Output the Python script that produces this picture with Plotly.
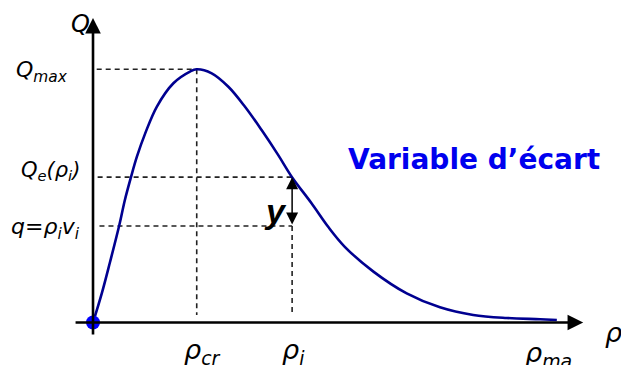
import plotly.graph_objects as go

# density / flow curve (rho in %, Q in % of Qmax)
rho = [0, 1.9, 3.7, 5.7, 6.9, 8.2, 9.5, 11.3, 13.8, 17.4, 21.0, 22.45, 25.7, 29.3,
       32.9, 36.5, 40.1, 43.0, 47.3, 50.9, 54.5, 60.7, 67.9, 75.1, 82.3, 89.5, 96.8, 100.4]
Q = [0, 11.5, 24.0, 38.5, 48.4, 57.3, 65.5, 74.7, 85.2, 94.5, 99.1, 100, 98.4, 93.1,
     85.2, 76.0, 66.1, 57.6, 47.1, 37.8, 29.9, 20.1, 11.5, 6.0, 3.0, 1.8, 1.3, 1.0]

rho_cr = 22.45
rho_i = 43.1
Q_max = 100
Q_e = 57.4
q_i = 38.1

x_axis = [-4.1, 106.1]
y_axis = [-5.3, 120.3]

font_it = "DejaVu Sans"

fig = go.Figure()

# guide lines
guides = [
    ([0.8, rho_cr], [Q_max, Q_max]),
    ([1.0, rho_i], [Q_e, Q_e]),
    ([1.4, rho_i], [q_i, q_i]),
    ([rho_cr, rho_cr], [Q_max, 3]),
    ([rho_i, rho_i], [q_i, 3]),
]
for gx, gy in guides:
    fig.add_trace(go.Scatter(x=gx, y=gy, mode="lines",
                             line=dict(color="#222222", width=1.6, dash="5px,4px"),
                             hoverinfo="skip"))

fig.add_trace(go.Scatter(x=rho, y=Q, mode="lines",
                         line=dict(color="#000090", width=2.6, shape="spline"),
                         hoverinfo="skip"))
fig.add_trace(go.Scatter(x=[0], y=[0], mode="markers",
                         marker=dict(color="#0000ff", size=14), hoverinfo="skip"))

# axes with arrow heads
fig.add_annotation(x=x_axis[1], y=0, ax=x_axis[0], ay=0, xref="x", yref="y",
                   axref="x", ayref="y", showarrow=True, arrowhead=2,
                   arrowsize=1.2, arrowwidth=2.6, arrowcolor="black", text="")
fig.add_annotation(x=0, y=y_axis[1], ax=0, ay=y_axis[0], xref="x", yref="y",
                   axref="x", ayref="y", showarrow=True, arrowhead=2,
                   arrowsize=1.2, arrowwidth=2.6, arrowcolor="black", text="")
# gap arrow
fig.add_annotation(x=rho_i, y=Q_e, ax=rho_i, ay=q_i, xref="x", yref="y",
                   axref="x", ayref="y", showarrow=True, arrowhead=2,
                   arrowside="end+start", arrowsize=1.6, arrowwidth=1.5,
                   arrowcolor="black", text="")

labels = [
    (-2.8, 117.9, "<i>Q</i>", "center", 24),
    (-5.0, 99.3, "<i>Q<sub>max</sub></i>", "right", 22),
    (-2.4, 60.0, "<i>Q<sub>e</sub>(ρ<sub>i</sub>)</i>", "right", 21),
    (-2.4, 37.0, "<i>q=ρ<sub>i</sub>v<sub>i</sub></i>", "right", 22),
    (23.8, -11.5, "<i>ρ<sub>cr</sub></i>", "center", 27),
    (43.5, -11.5, "<i>ρ<sub>i</sub></i>", "center", 27),
    (98.5, -12.5, "<i>ρ<sub>ma</sub></i>", "center", 27),
    (112.6, -4.0, "<i>ρ</i>", "center", 27),
]
for lx, ly, txt, anchor, size in labels:
    fig.add_annotation(x=lx, y=ly, text=txt, showarrow=False, xanchor=anchor,
                       font=dict(family=font_it, size=size, color="black"))

fig.add_annotation(x=39.4, y=44.0, text="<b><i>y</i></b>", showarrow=False,
                   font=dict(family="Liberation Sans", size=34, color="black"))
fig.add_annotation(x=82.5, y=64.4, text="<b>Variable d’écart</b>", showarrow=False,
                   font=dict(family="DejaVu Sans", size=28, color="#0000ee"))

# page body has an 8px margin, so ranges are shifted to compensate
fig.update_layout(
    width=629, height=365,
    margin=dict(l=0, r=0, t=0, b=0),
    paper_bgcolor="white", plot_bgcolor="white",
    showlegend=False,
    xaxis=dict(range=[-18.40, 117.75], visible=False, fixedrange=True),
    yaxis=dict(range=[-19.94, 124.21], visible=False, fixedrange=True),
)

fig.write_html("out.html")
